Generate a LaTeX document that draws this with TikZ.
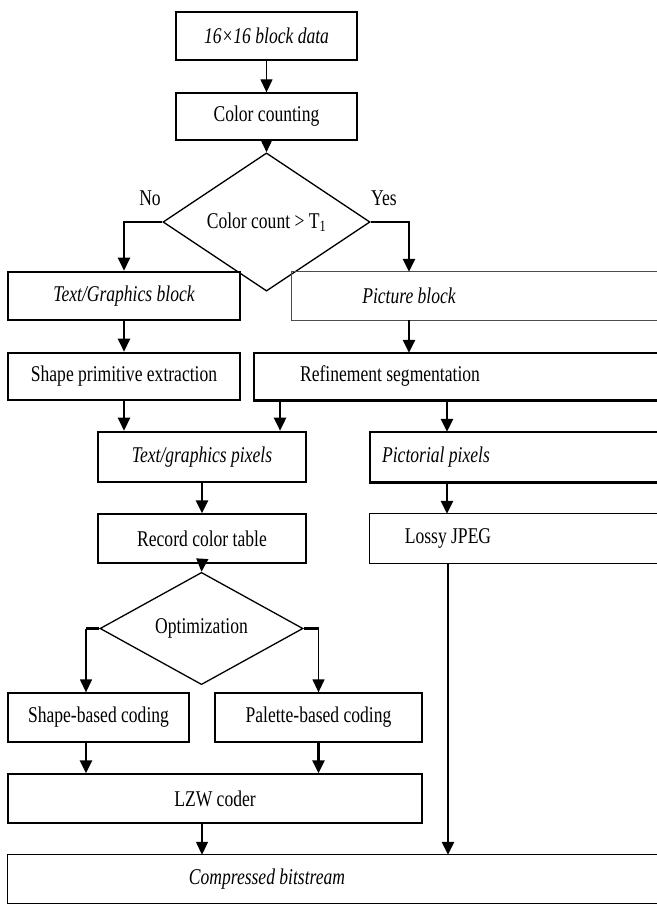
\documentclass[tikz,border=0pt]{standalone}
\usepackage{fontspec}
\setmainfont{Liberation Serif}[FakeStretch=0.78]
\usetikzlibrary{arrows.meta,shapes.geometric}
\begin{document}
\begin{tikzpicture}[x=1pt,y=-1pt,
  font=\fontsize{22.5}{26}\selectfont,
  thinl/.style={line width=1.3pt},
  thickl/.style={line width=2.6pt},
  box/.style={rectangle,draw,inner sep=0pt,thinl},
  tbox/.style={rectangle,draw,inner sep=0pt,thickl},
  nobox/.style={rectangle,draw=none,inner sep=0pt},
  dia/.style={diamond,draw,inner sep=0pt,thinl},
  arr/.style={-{Triangle[length=13pt,width=12pt]},thinl},
  tarr/.style={-{Triangle[length=13pt,width=12pt]},thickl},
  lbl/.style={inner sep=0pt}]
\useasboundingbox (0,0) rectangle (656,904);
\coordinate (R) at (661,0);
\coordinate (xa) at (280,0);
\coordinate (xb) at (447,0);
\coordinate (xc) at (86,0);
\coordinate (xd) at (202,0);

\node[box,minimum width=181pt,minimum height=48pt] (b1) at (266.5,36) {\itshape 16×16 block data};
\node[box,minimum width=181pt,minimum height=47pt] (b2) at (266.5,116.5) {Color counting};
\node[dia,minimum width=207pt,minimum height=98pt] (d1) at (266.5,222) {Color count > T\textsubscript{1}};
\node[lbl] (no) at (150,198) {No};
\node[lbl] (yes) at (384,198) {Yes};

\node[tbox,minimum width=232pt,minimum height=48pt] (tgb) at (124,296) {\itshape Text/Graphics block};
\node[nobox,minimum width=234pt,minimum height=48pt] (pb) at (409,296) {\itshape Picture block};
\draw[line width=1.3pt,black!70] (pb.north west) rectangle (pb.south -| R);

\node[tbox,minimum width=232pt,minimum height=47pt] (spe) at (124,376.5) {Shape primitive extraction};
\node[nobox,minimum width=272pt,minimum height=47pt] (rs) at (390,376.5) {Refinement segmentation};
\draw[thickl] (rs.north west) rectangle (rs.south -| R);

\node[tbox,minimum width=208pt,minimum height=50pt] (tgp) at (202,457) {\itshape Text/graphics pixels};
\node[nobox,minimum width=132pt,minimum height=50pt] (pp) at (436,457) {\itshape Pictorial pixels};
\draw[thickl] (pp.north west) rectangle (pp.south -| R);

\node[box,minimum width=208pt,minimum height=49pt] (rct) at (202,538.5) {Record color table};
\node[nobox,minimum width=156pt,minimum height=49pt] (lj) at (448,538.5) {Lossy JPEG};
\draw[thinl] (lj.north west) rectangle (lj.south -| R);

\node[dia,minimum width=203pt,minimum height=63pt] (d2) at (201.5,628.5) {Optimization};

\node[box,minimum width=181pt,minimum height=49pt] (sbc) at (98.5,717.5) {Shape-based coding};
\node[box,minimum width=207pt,minimum height=49pt] (pbc) at (318.5,717.5) {Palette-based coding};
\node[box,minimum width=414pt,minimum height=49pt] (lzw) at (215,798.5) {LZW coder};
\node[nobox,minimum width=518pt,minimum height=48pt] (cb) at (267,879) {\itshape Compressed bitstream};
\draw[thinl] (cb.north west) rectangle (cb.south -| R);

% connectors
\draw[arr] (b1.south) -- (b2.north);
\draw[arr] (b2.south) -- (d1.north);
\draw[tarr] (d1.west) -| (tgb.north);
\draw[tarr] (d1.east) -| (pb.north);
\draw[tarr] (tgb.south) -- (spe.north);
\draw[tarr] (pb.south) -- (pb.south |- rs.north);
\draw[tarr] (spe.south) -- (spe.south |- tgp.north);
\draw[tarr] (rs.south -| xa) -- (tgp.north -| xa);
\draw[tarr] (rs.south -| xb) -- (pp.north -| xb);
\draw[tarr] (tgp.south) -- (rct.north);
\draw[tarr] (pp.south -| xb) -- (lj.north -| xb);
\draw[arr] (rct.south) -- (d2.north);
\draw[thickl] (d2.west) -- (d2.west -| xc);
\draw[arr] (d2.west -| xc) -- (sbc.north -| xc);
\draw[thickl] (d2.east) -- (d2.east -| pbc.north);
\draw[arr] (d2.east -| pbc.north) -- (pbc.north);
\draw[tarr] (sbc.south -| xc) -- (lzw.north -| xc);
\draw[tarr] (pbc.south) -- (pbc.south |- lzw.north);
\draw[arr] (lzw.south -| xd) -- (cb.north -| xd);
\draw[tarr] (lj.south) -- (lj.south |- cb.north);
\end{tikzpicture}
\end{document}
